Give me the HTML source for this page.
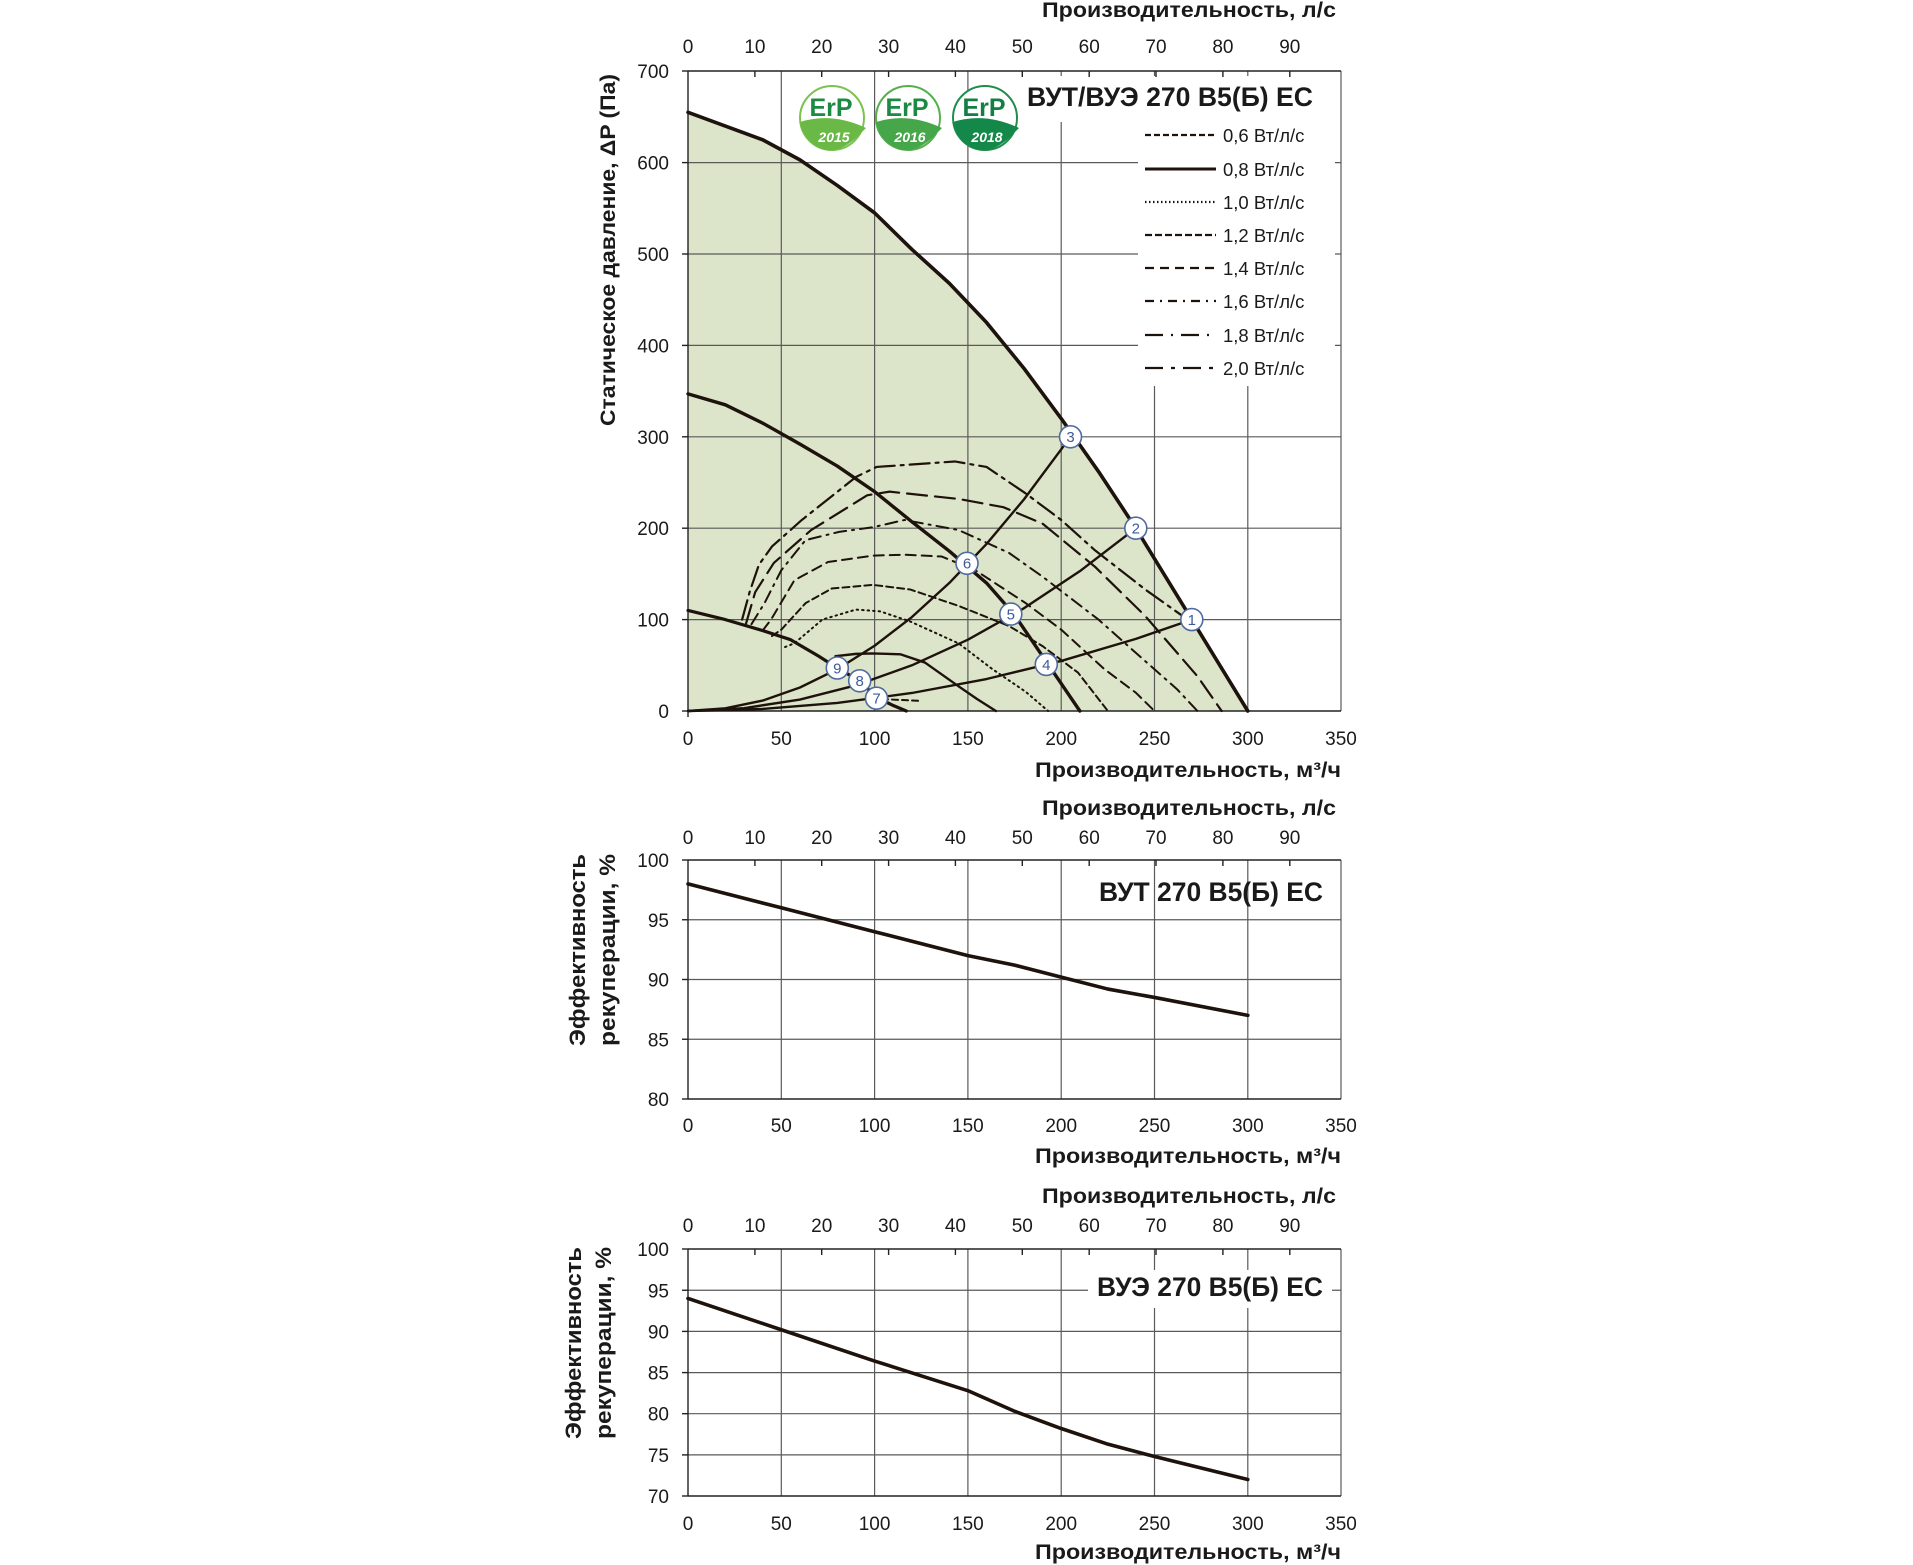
<!DOCTYPE html>
<html><head><meta charset="utf-8"><style>
html,body{margin:0;padding:0;background:#fff}
svg{display:block}
text{font-family:"Liberation Sans",sans-serif;fill:#1a1a1a}
.t{font-size:19px}
.b{font-weight:bold}
.g{stroke:#5a5a5a;stroke-width:1.2;fill:none}
.k{stroke:#222;stroke-width:1.4;fill:none}
.c{fill:none;stroke:#1e120c;stroke-linejoin:round;stroke-linecap:round;vector-effect:non-scaling-stroke}
.pt circle{fill:#fff;stroke:#4f6aa0;stroke-width:1.6}
.pt text{fill:#3d5a98;font-size:15px;text-anchor:middle}
</style></head><body>
<svg width="1913" height="1565" viewBox="0 0 1913 1565" xmlns="http://www.w3.org/2000/svg">

<!-- ================= TOP CHART ================= -->
<g transform="translate(688,711) scale(1.866,-0.914)">
  <polygon fill="#dce5c9" points="0,0 0,655 20,640 40,625 60,603 80,575 100,545 120,505 140,468 160,425 180,375 200,320 220,262 240,200 255,150 270,100 285,50 300,0"/>
</g>
<g class="g">
  <line x1="781.3" y1="71" x2="781.3" y2="711"/>
  <line x1="874.6" y1="71" x2="874.6" y2="711"/>
  <line x1="967.9" y1="71" x2="967.9" y2="711"/>
  <line x1="1061.2" y1="71" x2="1061.2" y2="711"/>
  <line x1="1154.5" y1="71" x2="1154.5" y2="711"/>
  <line x1="1247.8" y1="71" x2="1247.8" y2="711"/>
  <line x1="1341" y1="71" x2="1341" y2="711"/>
  <line x1="688" y1="162.6" x2="1341" y2="162.6"/>
  <line x1="688" y1="254" x2="1341" y2="254"/>
  <line x1="688" y1="345.4" x2="1341" y2="345.4"/>
  <line x1="688" y1="436.8" x2="1341" y2="436.8"/>
  <line x1="688" y1="528.2" x2="1341" y2="528.2"/>
  <line x1="688" y1="619.6" x2="1341" y2="619.6"/>
</g>
<rect x="1020" y="76" width="316" height="46" fill="#fff"/>
<rect x="1138" y="118" width="197" height="268" fill="#fff"/>
<g class="k">
  <line x1="688" y1="71" x2="688" y2="711"/>
  <line x1="688" y1="711" x2="1341" y2="711"/>
  <line x1="688" y1="71" x2="1341" y2="71"/>
  <line x1="682" y1="71" x2="688" y2="71"/><line x1="682" y1="162.6" x2="688" y2="162.6"/>
  <line x1="682" y1="254" x2="688" y2="254"/><line x1="682" y1="345.4" x2="688" y2="345.4"/>
  <line x1="682" y1="436.8" x2="688" y2="436.8"/><line x1="682" y1="528.2" x2="688" y2="528.2"/>
  <line x1="682" y1="619.6" x2="688" y2="619.6"/><line x1="682" y1="711" x2="688" y2="711"/>
  <line x1="754.9" y1="71" x2="754.9" y2="77"/><line x1="821.7" y1="71" x2="821.7" y2="77"/>
  <line x1="888.6" y1="71" x2="888.6" y2="77"/><line x1="955.4" y1="71" x2="955.4" y2="77"/>
  <line x1="1022.3" y1="71" x2="1022.3" y2="77"/><line x1="1089.2" y1="71" x2="1089.2" y2="77"/>
  <line x1="1156" y1="71" x2="1156" y2="77"/><line x1="1222.9" y1="71" x2="1222.9" y2="77"/>
  <line x1="1289.8" y1="71" x2="1289.8" y2="77"/>
  <line x1="688" y1="711" x2="688" y2="717"/>
</g>

<g transform="translate(688,711) scale(1.866,-0.914)">
  <polyline class="c" stroke-width="2.2" stroke-dasharray="20 6 3 6" points="29,100 33,130 38,160 45,180 61,209 90,256 101,267 143,273 160,267 181,238 200,209 218,176 245,133 265,104"/>
  <polyline class="c" stroke-width="2.2" stroke-dasharray="20 8" points="31,95 36,130 46,162 66,198 96,236 108,240 145,232 169,223 190,205 218,158 245,104 273,38 286,0"/>
  <polyline class="c" stroke-width="2" stroke-dasharray="12 6 2 6" points="34,95 41,118 50,154 63,187 81,196 99,201 116,209 145,198 172,173 190,147 220,100 242,60 262,24 273,0"/>
  <polyline class="c" stroke-width="2" stroke-dasharray="10 6" points="40,88 44.5,100 57,143 75,163 99,170 116,171 136,169 154,154 181,118 200,89 223,46 240,20 250,0"/>
  <polyline class="c" stroke-width="2" stroke-dasharray="7 4" points="45,82 50,89 63,118 77,134 99,138 119,133 145,115 172,93 190,71 209,42 225,0"/>
  <polyline class="c" stroke-width="2" stroke-dasharray="1.5 4" points="52,70 57,74 72,100 90,111 103,109 119,98 145,74 163,46 181,21 193,0"/>
  <polyline class="c" stroke-width="2" stroke-dasharray="6 4" points="104,13 115,12 125,11"/>
  <polyline class="c" stroke-width="2.4" points="0,0 20,2.9 40,11.4 60,25.7 80,45.7 100,71.4 120,102.8 140,140 160,182.8 180,231.4 205,300"/>
  <polyline class="c" stroke-width="2.4" points="0,0 30,3.1 60,12.5 90,28.1 120,50 150,78 180,112.4 210,153 240,200"/>
  <polyline class="c" stroke-width="2.4" points="0,0 40,2.2 80,8.8 120,19.7 160,35 200,54.8 240,78.9 270,100"/>
  <polyline class="c" stroke-width="3.6" points="0,655 20,640 40,625 60,603 80,575 100,545 120,505 140,468 160,425 180,375 200,320 220,262 240,200 255,150 270,100 285,50 300,0"/>
  <polyline class="c" stroke-width="3.4" points="0,347 20,335 40,315 60,292 80,268 100,240 120,207 140,175 160,140 175,105 190,60 200,30 210,0"/>
  <polyline class="c" stroke-width="3.2" points="0,110 20,100 40,88 55,78 70,60 80,47 92,33 101,15 110,6 117,0"/>
  <polyline class="c" stroke-width="2.4" points="79,60 90,62.5 99,63 114,62 127,53 145,27 155,13 165,0"/>
</g>
<g class="pt">
  <circle cx="1191.8" cy="619.6" r="11"/><text x="1191.8" y="625">1</text>
  <circle cx="1135.8" cy="528.2" r="11"/><text x="1135.8" y="533.6">2</text>
  <circle cx="1070.5" cy="436.8" r="11"/><text x="1070.5" y="442.2">3</text>
  <circle cx="1046.3" cy="664.4" r="11"/><text x="1046.3" y="669.8">4</text>
  <circle cx="1010.8" cy="614.1" r="11"/><text x="1010.8" y="619.5">5</text>
  <circle cx="967" cy="563.3" r="11"/><text x="967" y="568.7">6</text>
  <circle cx="876.5" cy="698.2" r="11"/><text x="876.5" y="703.6">7</text>
  <circle cx="859.7" cy="680.8" r="11"/><text x="859.7" y="686.2">8</text>
  <circle cx="837.3" cy="668" r="11"/><text x="837.3" y="673.4">9</text>
</g>

<g>
  <g transform="translate(832,118)">
    <circle r="32" fill="#fff" stroke="#7cc24f" stroke-width="2"/>
    <path d="M-32,4 Q0,-6 34,10 L26,18 Q10,34 -6,32 Q-28,26 -32,4Z" fill="#6ab845"/>
    <text x="-1" y="-2" text-anchor="middle" style="font-size:25px;font-weight:bold;fill:#1b8a45">ErP</text>
    <text x="2" y="24" text-anchor="middle" style="font-size:14px;font-weight:bold;font-style:italic;fill:#fff">2015</text>
  </g>
  <g transform="translate(908,118)">
    <circle r="32" fill="#fff" stroke="#55b04c" stroke-width="2"/>
    <path d="M-32,4 Q0,-6 34,10 L26,18 Q10,34 -6,32 Q-28,26 -32,4Z" fill="#46a74a"/>
    <text x="-1" y="-2" text-anchor="middle" style="font-size:25px;font-weight:bold;fill:#1b8a45">ErP</text>
    <text x="2" y="24" text-anchor="middle" style="font-size:14px;font-weight:bold;font-style:italic;fill:#fff">2016</text>
  </g>
  <g transform="translate(985,118)">
    <circle r="32" fill="#fff" stroke="#1f8e4c" stroke-width="2"/>
    <path d="M-32,4 Q0,-6 34,10 L26,18 Q10,34 -6,32 Q-28,26 -32,4Z" fill="#138848"/>
    <text x="-1" y="-2" text-anchor="middle" style="font-size:25px;font-weight:bold;fill:#137f42">ErP</text>
    <text x="2" y="24" text-anchor="middle" style="font-size:14px;font-weight:bold;font-style:italic;fill:#fff">2018</text>
  </g>
</g>

<text x="1313" y="106" text-anchor="end" class="b" style="font-size:27px" textLength="286" lengthAdjust="spacingAndGlyphs">ВУТ/ВУЭ 270 В5(Б) ЕС</text>
<g stroke="#1e120c" stroke-width="2.2" fill="none">
  <line x1="1145" y1="135" x2="1216" y2="135" stroke-dasharray="6 3"/>
  <line x1="1145" y1="169" x2="1216" y2="169" stroke-width="3"/>
  <line x1="1145" y1="202" x2="1216" y2="202" stroke-dasharray="1.5 2.5"/>
  <line x1="1145" y1="235" x2="1216" y2="235" stroke-dasharray="7 3"/>
  <line x1="1145" y1="268" x2="1216" y2="268" stroke-dasharray="9 6"/>
  <line x1="1145" y1="301" x2="1216" y2="301" stroke-dasharray="9 6 2 6"/>
  <line x1="1145" y1="335" x2="1216" y2="335" stroke-dasharray="18 8 2 8"/>
  <line x1="1145" y1="368" x2="1216" y2="368" stroke-dasharray="18 8 4 8"/>
</g>
<g class="t" style="font-size:18.5px">
  <text x="1223" y="142">0,6 Вт/л/с</text>
  <text x="1223" y="176">0,8 Вт/л/с</text>
  <text x="1223" y="209">1,0 Вт/л/с</text>
  <text x="1223" y="242">1,2 Вт/л/с</text>
  <text x="1223" y="275">1,4 Вт/л/с</text>
  <text x="1223" y="308">1,6 Вт/л/с</text>
  <text x="1223" y="342">1,8 Вт/л/с</text>
  <text x="1223" y="375">2,0 Вт/л/с</text>
</g>

<g class="t" text-anchor="end">
  <text x="669" y="78">700</text><text x="669" y="169.6">600</text><text x="669" y="261">500</text>
  <text x="669" y="352.4">400</text><text x="669" y="443.8">300</text><text x="669" y="535.2">200</text>
  <text x="669" y="626.6">100</text><text x="669" y="718">0</text>
</g>
<g class="t" text-anchor="middle">
  <text x="688" y="53">0</text><text x="754.9" y="53">10</text><text x="821.7" y="53">20</text>
  <text x="888.6" y="53">30</text><text x="955.4" y="53">40</text><text x="1022.3" y="53">50</text>
  <text x="1089.2" y="53">60</text><text x="1156" y="53">70</text><text x="1222.9" y="53">80</text>
  <text x="1289.8" y="53">90</text>
  <text x="688" y="745">0</text><text x="781.3" y="745">50</text><text x="874.6" y="745">100</text>
  <text x="967.9" y="745">150</text><text x="1061.2" y="745">200</text><text x="1154.5" y="745">250</text>
  <text x="1247.8" y="745">300</text><text x="1341" y="745">350</text>
</g>
<text x="1336" y="17" text-anchor="end" class="b" style="font-size:21px" textLength="294" lengthAdjust="spacingAndGlyphs">Производительность, л/с</text>
<text x="1341" y="777" text-anchor="end" class="b" style="font-size:21px" textLength="306" lengthAdjust="spacingAndGlyphs">Производительность, м³/ч</text>
<text transform="translate(615,250) rotate(-90)" text-anchor="middle" class="b" style="font-size:21px" textLength="352" lengthAdjust="spacingAndGlyphs">Статическое давление, ΔP (Па)</text>

<!-- ================= MIDDLE CHART ================= -->
<g class="g">
  <line x1="781.3" y1="860" x2="781.3" y2="1099"/><line x1="874.6" y1="860" x2="874.6" y2="1099"/>
  <line x1="967.9" y1="860" x2="967.9" y2="1099"/><line x1="1061.2" y1="860" x2="1061.2" y2="1099"/>
  <line x1="1154.5" y1="860" x2="1154.5" y2="1099"/><line x1="1247.8" y1="860" x2="1247.8" y2="1099"/>
  <line x1="1341" y1="860" x2="1341" y2="1099"/>
  <line x1="688" y1="919.75" x2="1341" y2="919.75"/><line x1="688" y1="979.5" x2="1341" y2="979.5"/>
  <line x1="688" y1="1039.25" x2="1341" y2="1039.25"/>
</g>
<g class="k">
  <line x1="688" y1="860" x2="688" y2="1099"/><line x1="688" y1="1099" x2="1341" y2="1099"/>
  <line x1="688" y1="860" x2="1341" y2="860"/>
  <line x1="682" y1="860" x2="688" y2="860"/><line x1="682" y1="919.75" x2="688" y2="919.75"/>
  <line x1="682" y1="979.5" x2="688" y2="979.5"/><line x1="682" y1="1039.25" x2="688" y2="1039.25"/>
  <line x1="682" y1="1099" x2="688" y2="1099"/>
  <line x1="754.9" y1="860" x2="754.9" y2="866"/><line x1="821.7" y1="860" x2="821.7" y2="866"/>
  <line x1="888.6" y1="860" x2="888.6" y2="866"/><line x1="955.4" y1="860" x2="955.4" y2="866"/>
  <line x1="1022.3" y1="860" x2="1022.3" y2="866"/><line x1="1089.2" y1="860" x2="1089.2" y2="866"/>
  <line x1="1156" y1="860" x2="1156" y2="866"/><line x1="1222.9" y1="860" x2="1222.9" y2="866"/>
  <line x1="1289.8" y1="860" x2="1289.8" y2="866"/>
</g>
<g transform="translate(688,1099) scale(1.866,-11.95)">
  <polyline class="c" stroke-width="3.6" points="0,18 50,16 100,14 150,12 175,11.2 200,10.2 225,9.2 250,8.5 300,7"/>
</g>
<text x="1323" y="901" text-anchor="end" class="b" style="font-size:27px" textLength="224" lengthAdjust="spacingAndGlyphs">ВУТ 270 В5(Б) ЕС</text>
<g class="t" text-anchor="end">
  <text x="669" y="867">100</text><text x="669" y="926.75">95</text><text x="669" y="986.5">90</text>
  <text x="669" y="1046.25">85</text><text x="669" y="1106">80</text>
</g>
<g class="t" text-anchor="middle">
  <text x="688" y="844">0</text><text x="754.9" y="844">10</text><text x="821.7" y="844">20</text>
  <text x="888.6" y="844">30</text><text x="955.4" y="844">40</text><text x="1022.3" y="844">50</text>
  <text x="1089.2" y="844">60</text><text x="1156" y="844">70</text><text x="1222.9" y="844">80</text>
  <text x="1289.8" y="844">90</text>
  <text x="688" y="1132">0</text><text x="781.3" y="1132">50</text><text x="874.6" y="1132">100</text>
  <text x="967.9" y="1132">150</text><text x="1061.2" y="1132">200</text><text x="1154.5" y="1132">250</text>
  <text x="1247.8" y="1132">300</text><text x="1341" y="1132">350</text>
</g>
<text x="1336" y="815" text-anchor="end" class="b" style="font-size:21px" textLength="294" lengthAdjust="spacingAndGlyphs">Производительность, л/с</text>
<text x="1341" y="1163" text-anchor="end" class="b" style="font-size:21px" textLength="306" lengthAdjust="spacingAndGlyphs">Производительность, м³/ч</text>
<text transform="translate(585,950) rotate(-90)" text-anchor="middle" class="b" style="font-size:22px" textLength="192" lengthAdjust="spacingAndGlyphs">Эффективность</text>
<text transform="translate(615,950) rotate(-90)" text-anchor="middle" class="b" style="font-size:22px" textLength="192" lengthAdjust="spacingAndGlyphs">рекуперации, %</text>

<!-- ================= BOTTOM CHART ================= -->
<g class="g">
  <line x1="781.3" y1="1249" x2="781.3" y2="1496"/><line x1="874.6" y1="1249" x2="874.6" y2="1496"/>
  <line x1="967.9" y1="1249" x2="967.9" y2="1496"/><line x1="1061.2" y1="1249" x2="1061.2" y2="1496"/>
  <line x1="1154.5" y1="1249" x2="1154.5" y2="1496"/><line x1="1247.8" y1="1249" x2="1247.8" y2="1496"/>
  <line x1="1341" y1="1249" x2="1341" y2="1496"/>
  <line x1="688" y1="1290.25" x2="1341" y2="1290.25"/><line x1="688" y1="1331.4" x2="1341" y2="1331.4"/>
  <line x1="688" y1="1372.6" x2="1341" y2="1372.6"/><line x1="688" y1="1413.7" x2="1341" y2="1413.7"/>
  <line x1="688" y1="1454.9" x2="1341" y2="1454.9"/>
</g>
<rect x="1088" y="1270" width="244" height="38" fill="#fff"/>
<g class="k">
  <line x1="688" y1="1249" x2="688" y2="1496"/><line x1="688" y1="1496" x2="1341" y2="1496"/>
  <line x1="688" y1="1249" x2="1341" y2="1249"/>
  <line x1="682" y1="1249" x2="688" y2="1249"/><line x1="682" y1="1290.25" x2="688" y2="1290.25"/>
  <line x1="682" y1="1331.4" x2="688" y2="1331.4"/><line x1="682" y1="1372.6" x2="688" y2="1372.6"/>
  <line x1="682" y1="1413.7" x2="688" y2="1413.7"/><line x1="682" y1="1454.9" x2="688" y2="1454.9"/>
  <line x1="682" y1="1496" x2="688" y2="1496"/>
  <line x1="754.9" y1="1249" x2="754.9" y2="1255"/><line x1="821.7" y1="1249" x2="821.7" y2="1255"/>
  <line x1="888.6" y1="1249" x2="888.6" y2="1255"/><line x1="955.4" y1="1249" x2="955.4" y2="1255"/>
  <line x1="1022.3" y1="1249" x2="1022.3" y2="1255"/><line x1="1089.2" y1="1249" x2="1089.2" y2="1255"/>
  <line x1="1156" y1="1249" x2="1156" y2="1255"/><line x1="1222.9" y1="1249" x2="1222.9" y2="1255"/>
  <line x1="1289.8" y1="1249" x2="1289.8" y2="1255"/>
</g>
<g transform="translate(688,1496) scale(1.866,-8.23)">
  <polyline class="c" stroke-width="3.6" points="0,24 50,20.2 100,16.4 150,12.8 175,10.3 200,8.2 225,6.3 250,4.8 300,2"/>
</g>
<text x="1323" y="1296" text-anchor="end" class="b" style="font-size:27px" textLength="226" lengthAdjust="spacingAndGlyphs">ВУЭ 270 В5(Б) ЕС</text>
<g class="t" text-anchor="end">
  <text x="669" y="1256">100</text><text x="669" y="1297.25">95</text><text x="669" y="1338.4">90</text>
  <text x="669" y="1379.6">85</text><text x="669" y="1420.7">80</text><text x="669" y="1461.9">75</text>
  <text x="669" y="1503">70</text>
</g>
<g class="t" text-anchor="middle">
  <text x="688" y="1232">0</text><text x="754.9" y="1232">10</text><text x="821.7" y="1232">20</text>
  <text x="888.6" y="1232">30</text><text x="955.4" y="1232">40</text><text x="1022.3" y="1232">50</text>
  <text x="1089.2" y="1232">60</text><text x="1156" y="1232">70</text><text x="1222.9" y="1232">80</text>
  <text x="1289.8" y="1232">90</text>
  <text x="688" y="1530">0</text><text x="781.3" y="1530">50</text><text x="874.6" y="1530">100</text>
  <text x="967.9" y="1530">150</text><text x="1061.2" y="1530">200</text><text x="1154.5" y="1530">250</text>
  <text x="1247.8" y="1530">300</text><text x="1341" y="1530">350</text>
</g>
<text x="1336" y="1203" text-anchor="end" class="b" style="font-size:21px" textLength="294" lengthAdjust="spacingAndGlyphs">Производительность, л/с</text>
<text x="1341" y="1559" text-anchor="end" class="b" style="font-size:21px" textLength="306" lengthAdjust="spacingAndGlyphs">Производительность, м³/ч</text>
<text transform="translate(581,1343) rotate(-90)" text-anchor="middle" class="b" style="font-size:22px" textLength="192" lengthAdjust="spacingAndGlyphs">Эффективность</text>
<text transform="translate(611,1343) rotate(-90)" text-anchor="middle" class="b" style="font-size:22px" textLength="192" lengthAdjust="spacingAndGlyphs">рекуперации, %</text>
</svg>
</body></html>
